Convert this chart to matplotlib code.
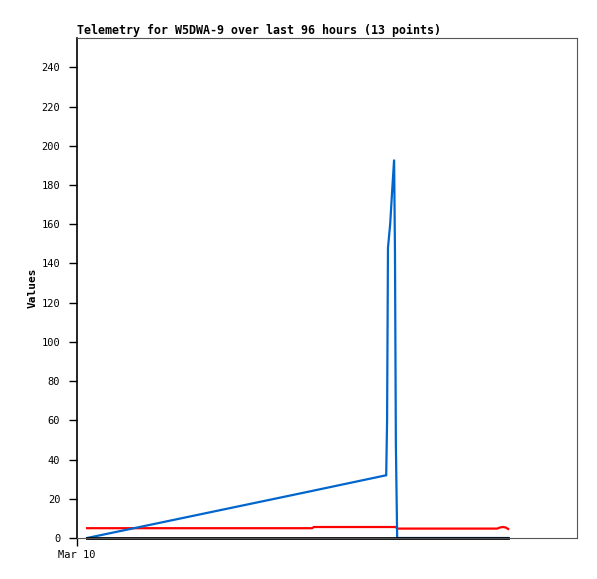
import matplotlib
matplotlib.use('Agg')
import matplotlib.pyplot as plt

plt.rcParams['font.family'] = ['DejaVu Sans Mono']

# hours since Mar 10 00:00
hours = [2.3, 53.6, 54.0, 70.5, 70.7, 70.9, 71.4, 71.8, 72.3, 72.5, 72.7, 73.0,
         95.8, 96.5, 97.2, 97.8, 98.3]
blue = [0, 24.0, 24.2, 32, 60, 148, 160, 175, 193, 145, 48, 0,
        0, 0, 0, 0, 0]
red = [5.0, 5.0, 5.6, 5.6, 5.6, 5.6, 5.6, 5.6, 5.6, 5.6, 5.6, 4.8,
       4.8, 5.4, 5.6, 5.3, 4.6]
black = [0] * len(hours)

xtick_pos = [0]
xtick_labels = ['Mar 10']
ytick_pos = list(range(0, 241, 20))

fig = plt.figure(figsize=(5.97, 5.79), dpi=100)
ax = fig.add_axes([77 / 597, 41 / 579, 500 / 597, 500 / 579])

ax.plot(hours, red, color='#ff0000', lw=1.6, solid_joinstyle='miter')
ax.plot(hours, blue, color='#0066cc', lw=1.6, solid_joinstyle='miter')
ax.plot(hours, black, color='black', lw=2, clip_on=False)

ax.set_xlim(0, 114)
ax.set_ylim(0, 255)
ax.set_xticks(xtick_pos, xtick_labels)
ax.set_yticks(ytick_pos)

ax.tick_params(axis='y', direction='out', length=6, width=1, labelsize=7.5,
               colors='black', pad=6)
ax.tick_params(axis='x', direction='out', length=6, width=1, labelsize=7.5,
               colors='black', pad=3)
for s in ['top', 'right', 'bottom']:
    ax.spines[s].set_color('#555555')
ax.spines['left'].set_color('black')
ax.spines['left'].set_linewidth(1.2)

ax.set_title('Telemetry for W5DWA-9 over last 96 hours (13 points)',
             loc='left', fontsize=8.4, fontweight='bold', pad=3)
ax.set_ylabel('Values', fontsize=8, fontweight='bold', labelpad=3)

plt.savefig('out.png', dpi=100)
